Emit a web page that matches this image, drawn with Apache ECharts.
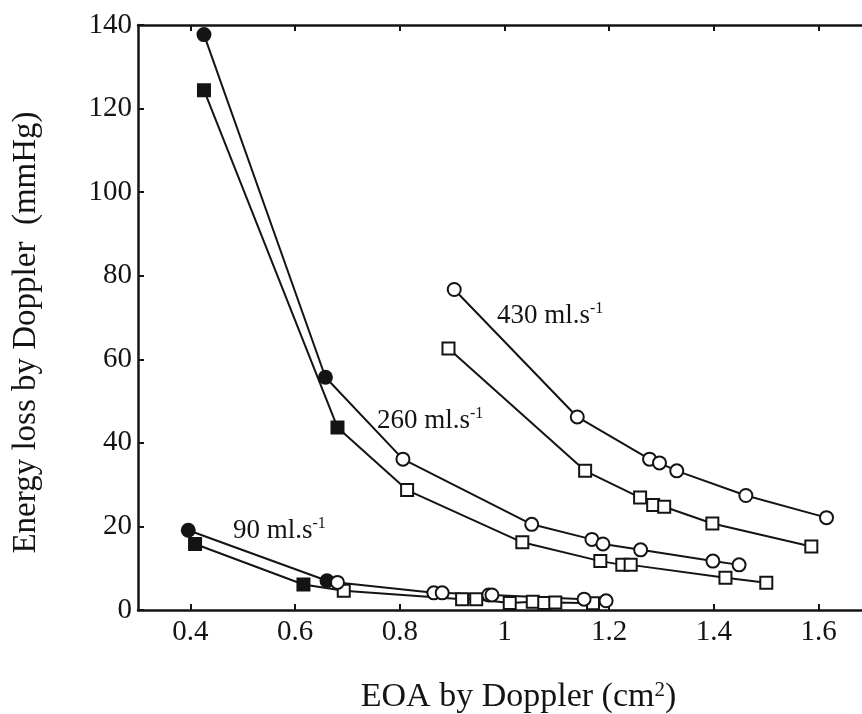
<!DOCTYPE html>
<html><head><meta charset="utf-8">
<script src="https://cdn.jsdelivr.net/npm/echarts@6/dist/echarts.min.js"></script>
<style>html,body{margin:0;padding:0;background:#fff}#c{width:862px;height:714px}</style>
</head><body><div id="c"></div>
<script>
// ---- data ----
const xTickValues = [0.4, 0.6, 0.8, 1, 1.2, 1.4, 1.6];
const yTickValues = [0, 20, 40, 60, 80, 100, 120, 140];

// 430 ml/s
const circles430 = [[0.904,76.7],[1.139,46.2],[1.277,36.1],[1.296,35.2],[1.329,33.3],[1.461,27.4],[1.615,22.1]];
const squares430 = [[0.893,62.6],[1.154,33.3],[1.259,26.9],[1.284,25.1],[1.305,24.7],[1.397,20.7],[1.586,15.2]];
const filled430 = 0;
// 260 ml/s (first two points filled)
const circles260 = [[0.426,137.7],[0.658,55.7],[0.806,36.1],[1.052,20.5],[1.167,16.9],[1.188,15.8],[1.260,14.4],[1.398,11.7],[1.448,10.8]];
const squares260 = [[0.426,124.4],[0.681,43.7],[0.814,28.7],[1.034,16.2],[1.183,11.7],[1.225,10.8],[1.241,10.8],[1.422,7.7],[1.500,6.5]];
const filled260 = 2;
// 90 ml/s (first two points filled)
const circles90 = [[0.396,19.1],[0.661,7.0],[0.681,6.6],[0.865,4.1],[0.881,4.1],[0.970,3.6],[0.976,3.6],[1.152,2.6],[1.194,2.2]];
const squares90 = [[0.409,15.8],[0.616,6.1],[0.693,4.6],[0.919,2.6],[0.946,2.6],[1.010,1.7],[1.054,2.0],[1.076,1.7],[1.097,1.8],[1.169,1.6]];
const filled90 = 2;

const flowLabels = ['430', '260', '90'];

// ---- chart ----
const FONT = '"Liberation Serif", "Times New Roman", serif';
const INK = '#141414';

function makeSeries(name, pts, symbol, nFilled) {
  return {
    type: 'line', name: name, symbol: symbol,
    symbolSize: symbol === 'circle' ? 13 : 12,
    showAllSymbol: true, animation: false,
    lineStyle: { color: INK, width: 2 },
    itemStyle: { color: '#fff', borderColor: INK, borderWidth: 2 },
    data: pts.map((p, i) => i < nFilled
      ? { value: p, itemStyle: { color: INK, borderColor: INK } }
      : { value: p })
  };
}

function flowText(label) {
  return '{n|' + label + ' ml.s}{s|-1}';
}
const richStyle = {
  n: { fontFamily: FONT, fontSize: 27, lineHeight: 30, fill: INK },
  s: { fontFamily: FONT, fontSize: 16, lineHeight: 18, verticalAlign: 'top', fill: INK }
};

const chart = echarts.init(document.getElementById('c'), null, { renderer: 'canvas' });
const axisLine = { show: true, lineStyle: { color: INK, width: 2.5 } };

chart.setOption({
  backgroundColor: '#fff',
  animation: false,
  grid: { left: 138, top: 25, right: -9, bottom: 104, outerBoundsMode: 'none', containLabel: false },
  xAxis: [{
    type: 'value', min: 0.3, max: 1.7, position: 'bottom',
    axisLine: axisLine,
    axisTick: { show: true, inside: true, length: 6, lineStyle: { color: INK, width: 2 }, customValues: xTickValues },
    axisLabel: { show: true, margin: 8, fontFamily: FONT, fontSize: 29, color: INK,
      customValues: xTickValues, formatter: v => String(v) },
    splitLine: { show: false },
    name: '{a|EOA by Doppler (cm}{s|2}{a|)}', nameLocation: 'middle', nameGap: 70,
    nameTextStyle: { color: INK, padding: [0, 0, 0, 28],
      rich: {
        a: { fontFamily: FONT, fontSize: 34, lineHeight: 34, color: INK },
        s: { fontFamily: FONT, fontSize: 21, lineHeight: 20, verticalAlign: 'top', color: INK }
      } }
  }, {
    type: 'value', min: 0.3, max: 1.7, position: 'top',
    axisLine: axisLine,
    axisTick: { show: true, inside: true, length: 6, lineStyle: { color: INK, width: 2 }, customValues: xTickValues },
    axisLabel: { show: false },
    splitLine: { show: false }
  }],
  yAxis: {
    type: 'value', min: 0, max: 140, interval: 20,
    axisLine: axisLine,
    axisTick: { show: true, inside: true, length: 6, lineStyle: { color: INK, width: 2 } },
    axisLabel: { margin: 6, fontFamily: FONT, fontSize: 29, color: INK },
    splitLine: { show: false },
    name: 'Energy loss by Doppler  (mmHg)', nameLocation: 'middle', nameGap: 95,
    nameTextStyle: { fontFamily: FONT, fontSize: 33, color: INK, padding: [0, 30, 0, 0] }
  },
  series: [
    makeSeries('430 circles', circles430, 'circle', filled430),
    makeSeries('430 squares', squares430, 'rect', filled430),
    makeSeries('260 circles', circles260, 'circle', filled260),
    makeSeries('260 squares', squares260, 'rect', filled260),
    makeSeries('90 squares', squares90, 'rect', filled90),
    makeSeries('90 circles', circles90, 'circle', filled90)
  ],
  graphic: [
    { type: 'text', left: 497, top: 301, style: { text: flowText(flowLabels[0]), rich: richStyle } },
    { type: 'text', left: 377, top: 406, style: { text: flowText(flowLabels[1]), rich: richStyle } },
    { type: 'text', left: 233, top: 516, style: { text: flowText(flowLabels[2]), rich: richStyle } }
  ]
});
</script>
</body></html>
